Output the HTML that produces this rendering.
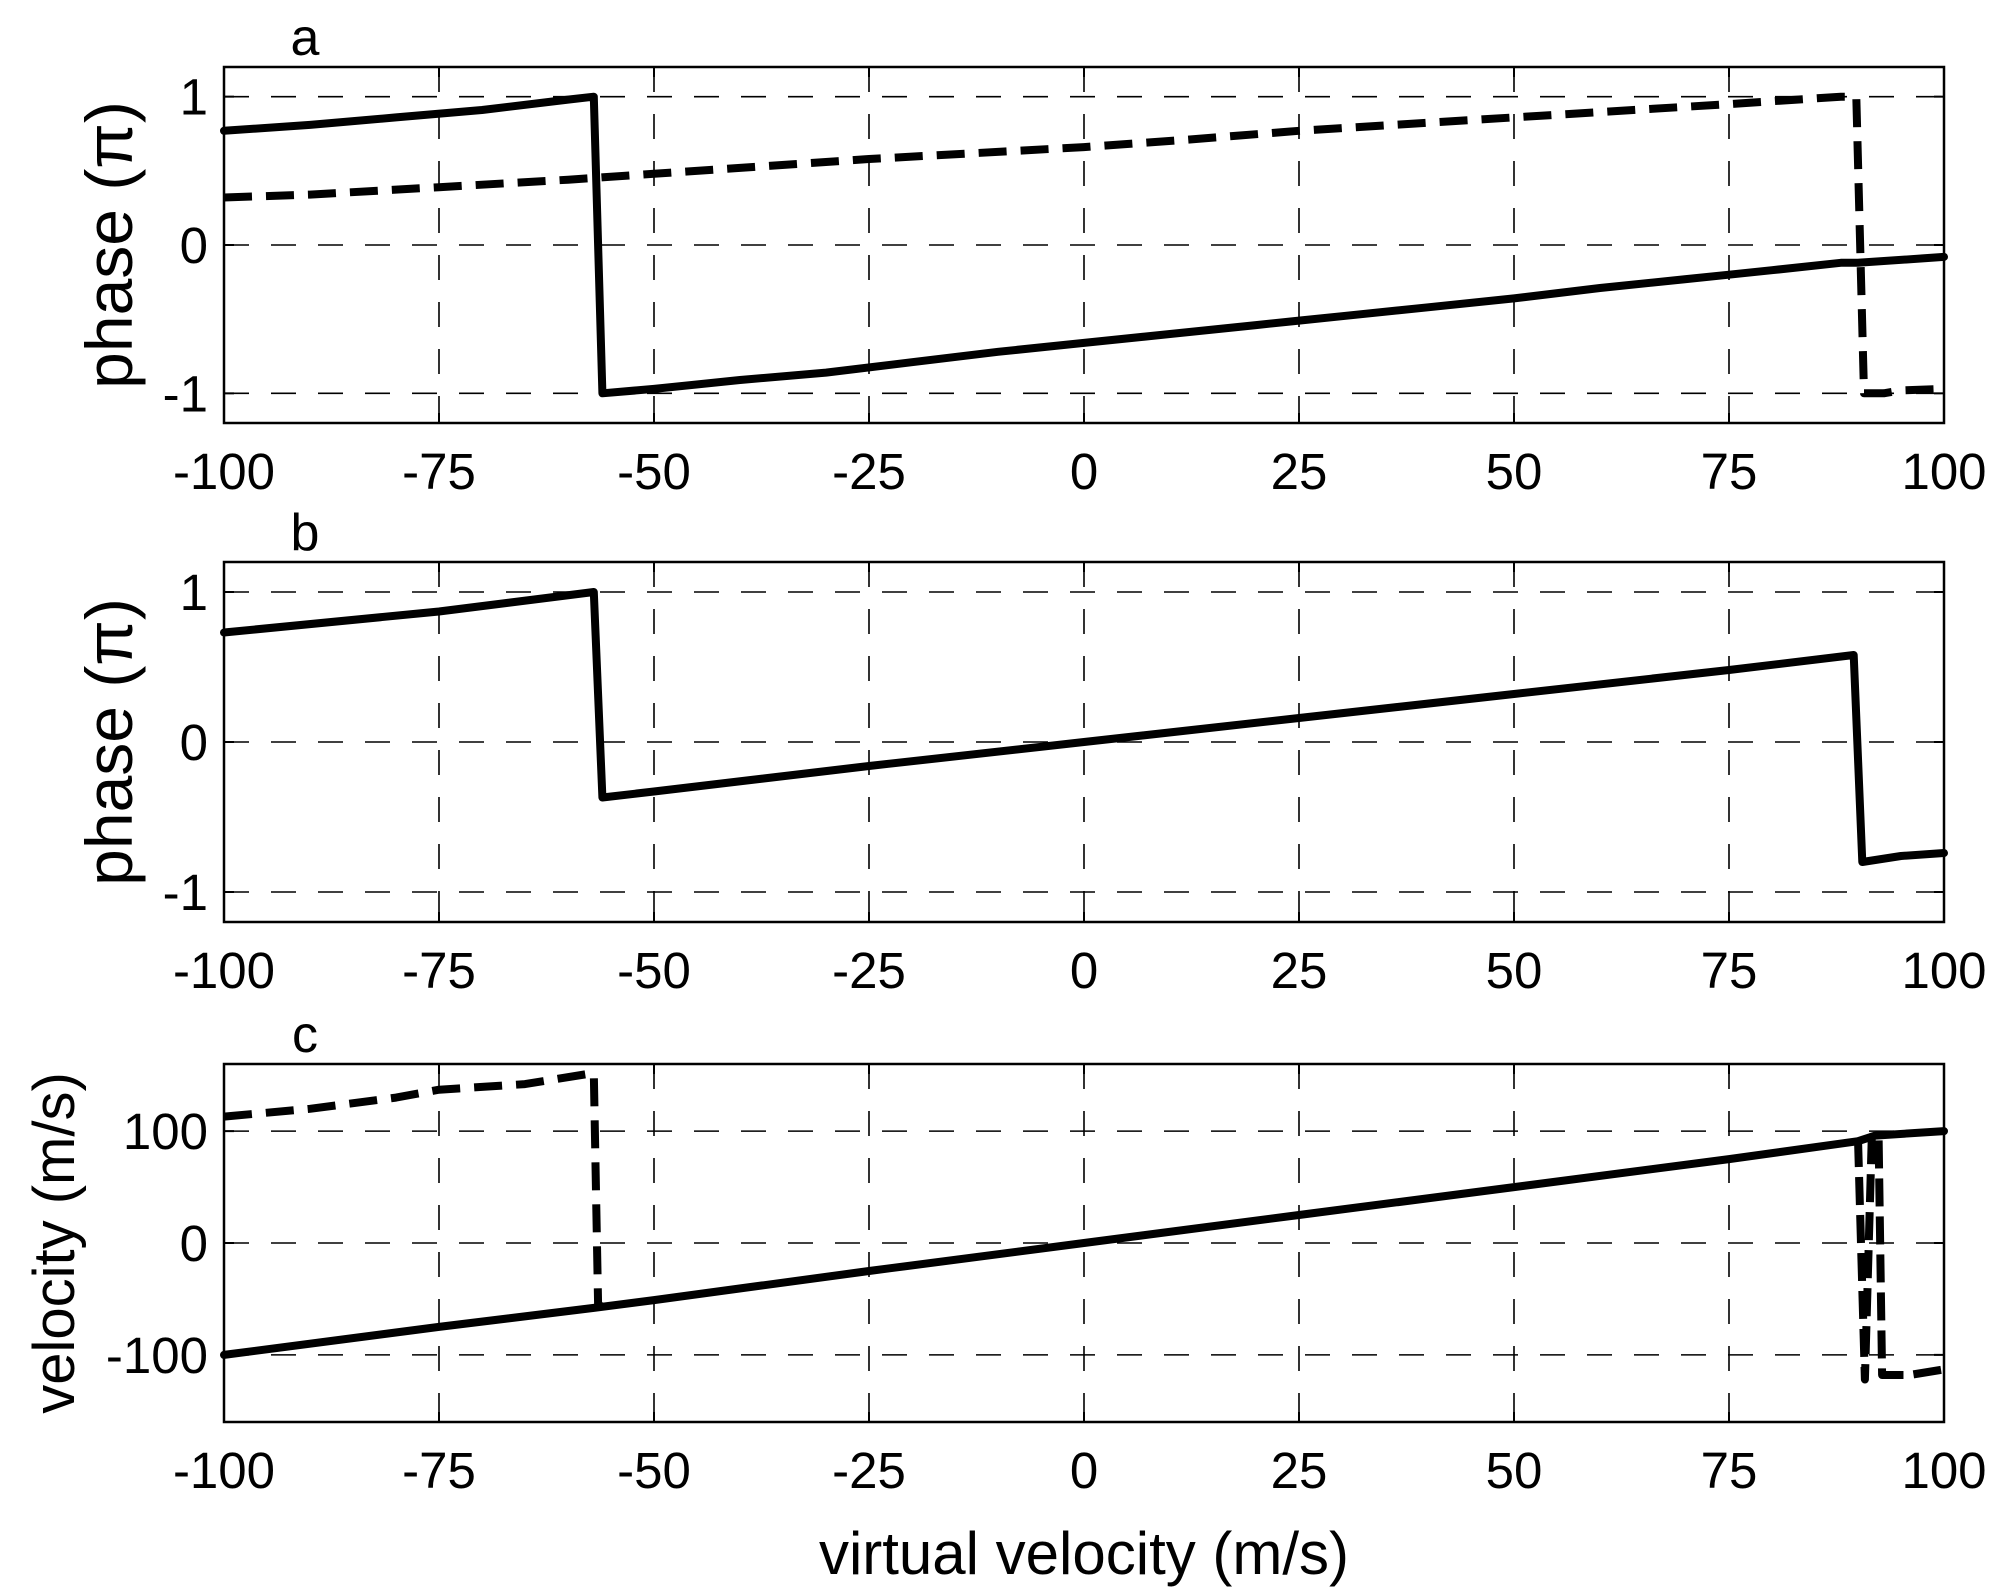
<!DOCTYPE html>
<html><head><meta charset="utf-8"><style>
html,body{margin:0;padding:0;background:#fff;}
svg{display:block;font-family:"Liberation Sans",Arial,sans-serif;}
</style></head><body>
<svg id="fig" width="2004" height="1595" viewBox="0 0 2004 1595" xmlns="http://www.w3.org/2000/svg">
<rect x="0" y="0" width="2004" height="1595" fill="#fff"/>
<text x="1084" y="1574" font-size="60" text-anchor="middle">virtual velocity (m/s)</text>
</svg>
<script>
const xTicks = [-100,-75,-50,-25,0,25,50,75,100];
const xTickLabels = ["-100","-75","-50","-25","0","25","50","75","100"];
const phaseTicks = [-1,0,1];
const phaseTickLabels = ["-1","0","1"];
const velTicks = [-100,0,100];
const velTickLabels = ["-100","0","100"];

const aSolidX = [-100,-90,-80,-70,-60,-57,-56,-50,-40,-30,-20,-10,0,10,20,25,30,40,50,60,70,75,80,88,90,100];
const aSolidY = [0.77,0.81,0.86,0.91,0.98,1.0,-1.0,-0.97,-0.91,-0.86,-0.79,-0.72,-0.66,-0.6,-0.54,-0.51,-0.48,-0.42,-0.36,-0.29,-0.23,-0.2,-0.17,-0.12,-0.12,-0.08];
const aDashX = [-100,-90,-75,-60,-50,-40,-25,0,12,25,50,75,88,89.8,90.7,93,95,100];
const aDashY = [0.32,0.34,0.39,0.44,0.48,0.52,0.58,0.66,0.71,0.77,0.86,0.95,1.0,1.0,-1.0,-1.0,-0.98,-0.97];
const bSolidX = [-100,-75,-57,-56,-50,-25,0,25,50,75,89.5,90.5,95,100];
const bSolidY = [0.73,0.87,1.0,-0.37,-0.33,-0.16,0.0,0.16,0.32,0.48,0.58,-0.8,-0.76,-0.74];
const cSolidX = [-100,-75,-57,-50,-25,0,25,50,75,90,92,100];
const cSolidY = [-100,-75,-58,-51,-25,0,25,50,75,91,96,100];
const cDashX = [-100,-90,-80,-75,-65,-57,-56.5,-56];
const cDashY = [113,120,130,137,142,152,-55,-57];
const cDash2X = [90,90.8,91.6,92.4,92.8,93.3,96,100];
const cDash2Y = [93,-122,95,95,-118,-118,-118,-113];

const NS = "http://www.w3.org/2000/svg";
const svg = document.getElementById('fig');
const L = 224, R = 1944;
function sx(v){ return L + (v + 100) / 200 * (R - L); }
function mk(tag, attrs, parent){ const e=document.createElementNS(NS,tag); for(const k in attrs) e.setAttribute(k,attrs[k]); (parent||svg).appendChild(e); return e; }

function panel(name, top, bottom, ymin, ymax, yT, yTL, ylabel, letter, series){
  const g = mk('g',{});
  
  
  const sy = v => bottom - (v - ymin) / (ymax - ymin) * (bottom - top);
  xTicks.forEach((t,i)=>{
    if(i===0||i===xTicks.length-1) return;
    const l = mk('line',{x1:sx(t),x2:sx(t),y1:top,y2:bottom,stroke:'#000','stroke-width':1.6,'stroke-dasharray':'25,22'},g);
    
    
  });
  yT.forEach(t=>{
    const l = mk('line',{x1:L,x2:R,y1:sy(t),y2:sy(t),stroke:'#000','stroke-width':1.6,'stroke-dasharray':'25,22'},g);
    
    
  });
  xTicks.forEach(t=>{
    mk('line',{x1:sx(t),x2:sx(t),y1:bottom,y2:bottom-10,stroke:'#000','stroke-width':2},g);
    mk('line',{x1:sx(t),x2:sx(t),y1:top,y2:top+10,stroke:'#000','stroke-width':2},g);
  });
  yT.forEach(t=>{
    mk('line',{x1:L,x2:L+10,y1:sy(t),y2:sy(t),stroke:'#000','stroke-width':2},g);
    mk('line',{x1:R,x2:R-10,y1:sy(t),y2:sy(t),stroke:'#000','stroke-width':2},g);
  });
  series.forEach(s=>{
    const d = s.x.map((v,i)=>(i?'L':'M')+sx(v).toFixed(1)+' '+sy(s.y[i]).toFixed(1)).join(' ');
    const p = mk('path',{d:d,fill:'none',stroke:'#000','stroke-width':8,'stroke-linejoin':'round','stroke-linecap':s.dash?'butt':'round'},g);
    if(s.dash) p.setAttribute('stroke-dasharray',s.dash);
    
    
  });
  const box = mk('rect',{x:L,y:top,width:R-L,height:bottom-top,fill:'none',stroke:'#000','stroke-width':2.5},g);
  
  
  xTicks.forEach((t,i)=>{
    const tx = mk('text',{x:sx(t),y:bottom+66,'font-size':51,'text-anchor':'middle'},g);
    tx.textContent = xTickLabels[i];
    
    
  });
  yT.forEach((t,i)=>{
    const tx = mk('text',{x:208,y:sy(t)+18,'font-size':51,'text-anchor':'end'},g);
    tx.textContent = yTL[i];
    
    
  });
  const cy = (top+bottom)/2;
  const yl = mk('text',{x:0,y:0,'font-size':ylabel.size,'text-anchor':'middle',transform:'translate('+ylabel.x+','+cy+') rotate(-90)'},g);
  yl.textContent = ylabel.text;
  
  
  const lt = mk('text',{x:305,y:top-12,'font-size':52,'text-anchor':'middle'},g);
  lt.textContent = letter;
  
  
}

panel('panel-a',67,423,-1.2,1.2,phaseTicks,phaseTickLabels,{text:'phase (\u03c0)',x:132,size:66},'a',[
  {name:'series-a-solid',x:aSolidX,y:aSolidY},
  {name:'series-a-dashed',x:aDashX,y:aDashY,dash:'28,14'}
]);
panel('panel-b',562,922,-1.2,1.2,phaseTicks,phaseTickLabels,{text:'phase (\u03c0)',x:132,size:66},'b',[
  {name:'series-b-solid',x:bSolidX,y:bSolidY}
]);
panel('panel-c',1064,1422,-160,160,velTicks,velTickLabels,{text:'velocity (m/s)',x:74,size:58},'c',[
  {name:'series-c-dashed',x:cDashX,y:cDashY,dash:'28,14'},
  {name:'series-c-dashed-right',x:cDash2X,y:cDash2Y,dash:'28,10'},
  {name:'series-c-solid',x:cSolidX,y:cSolidY}
]);
</script>
</body></html>
